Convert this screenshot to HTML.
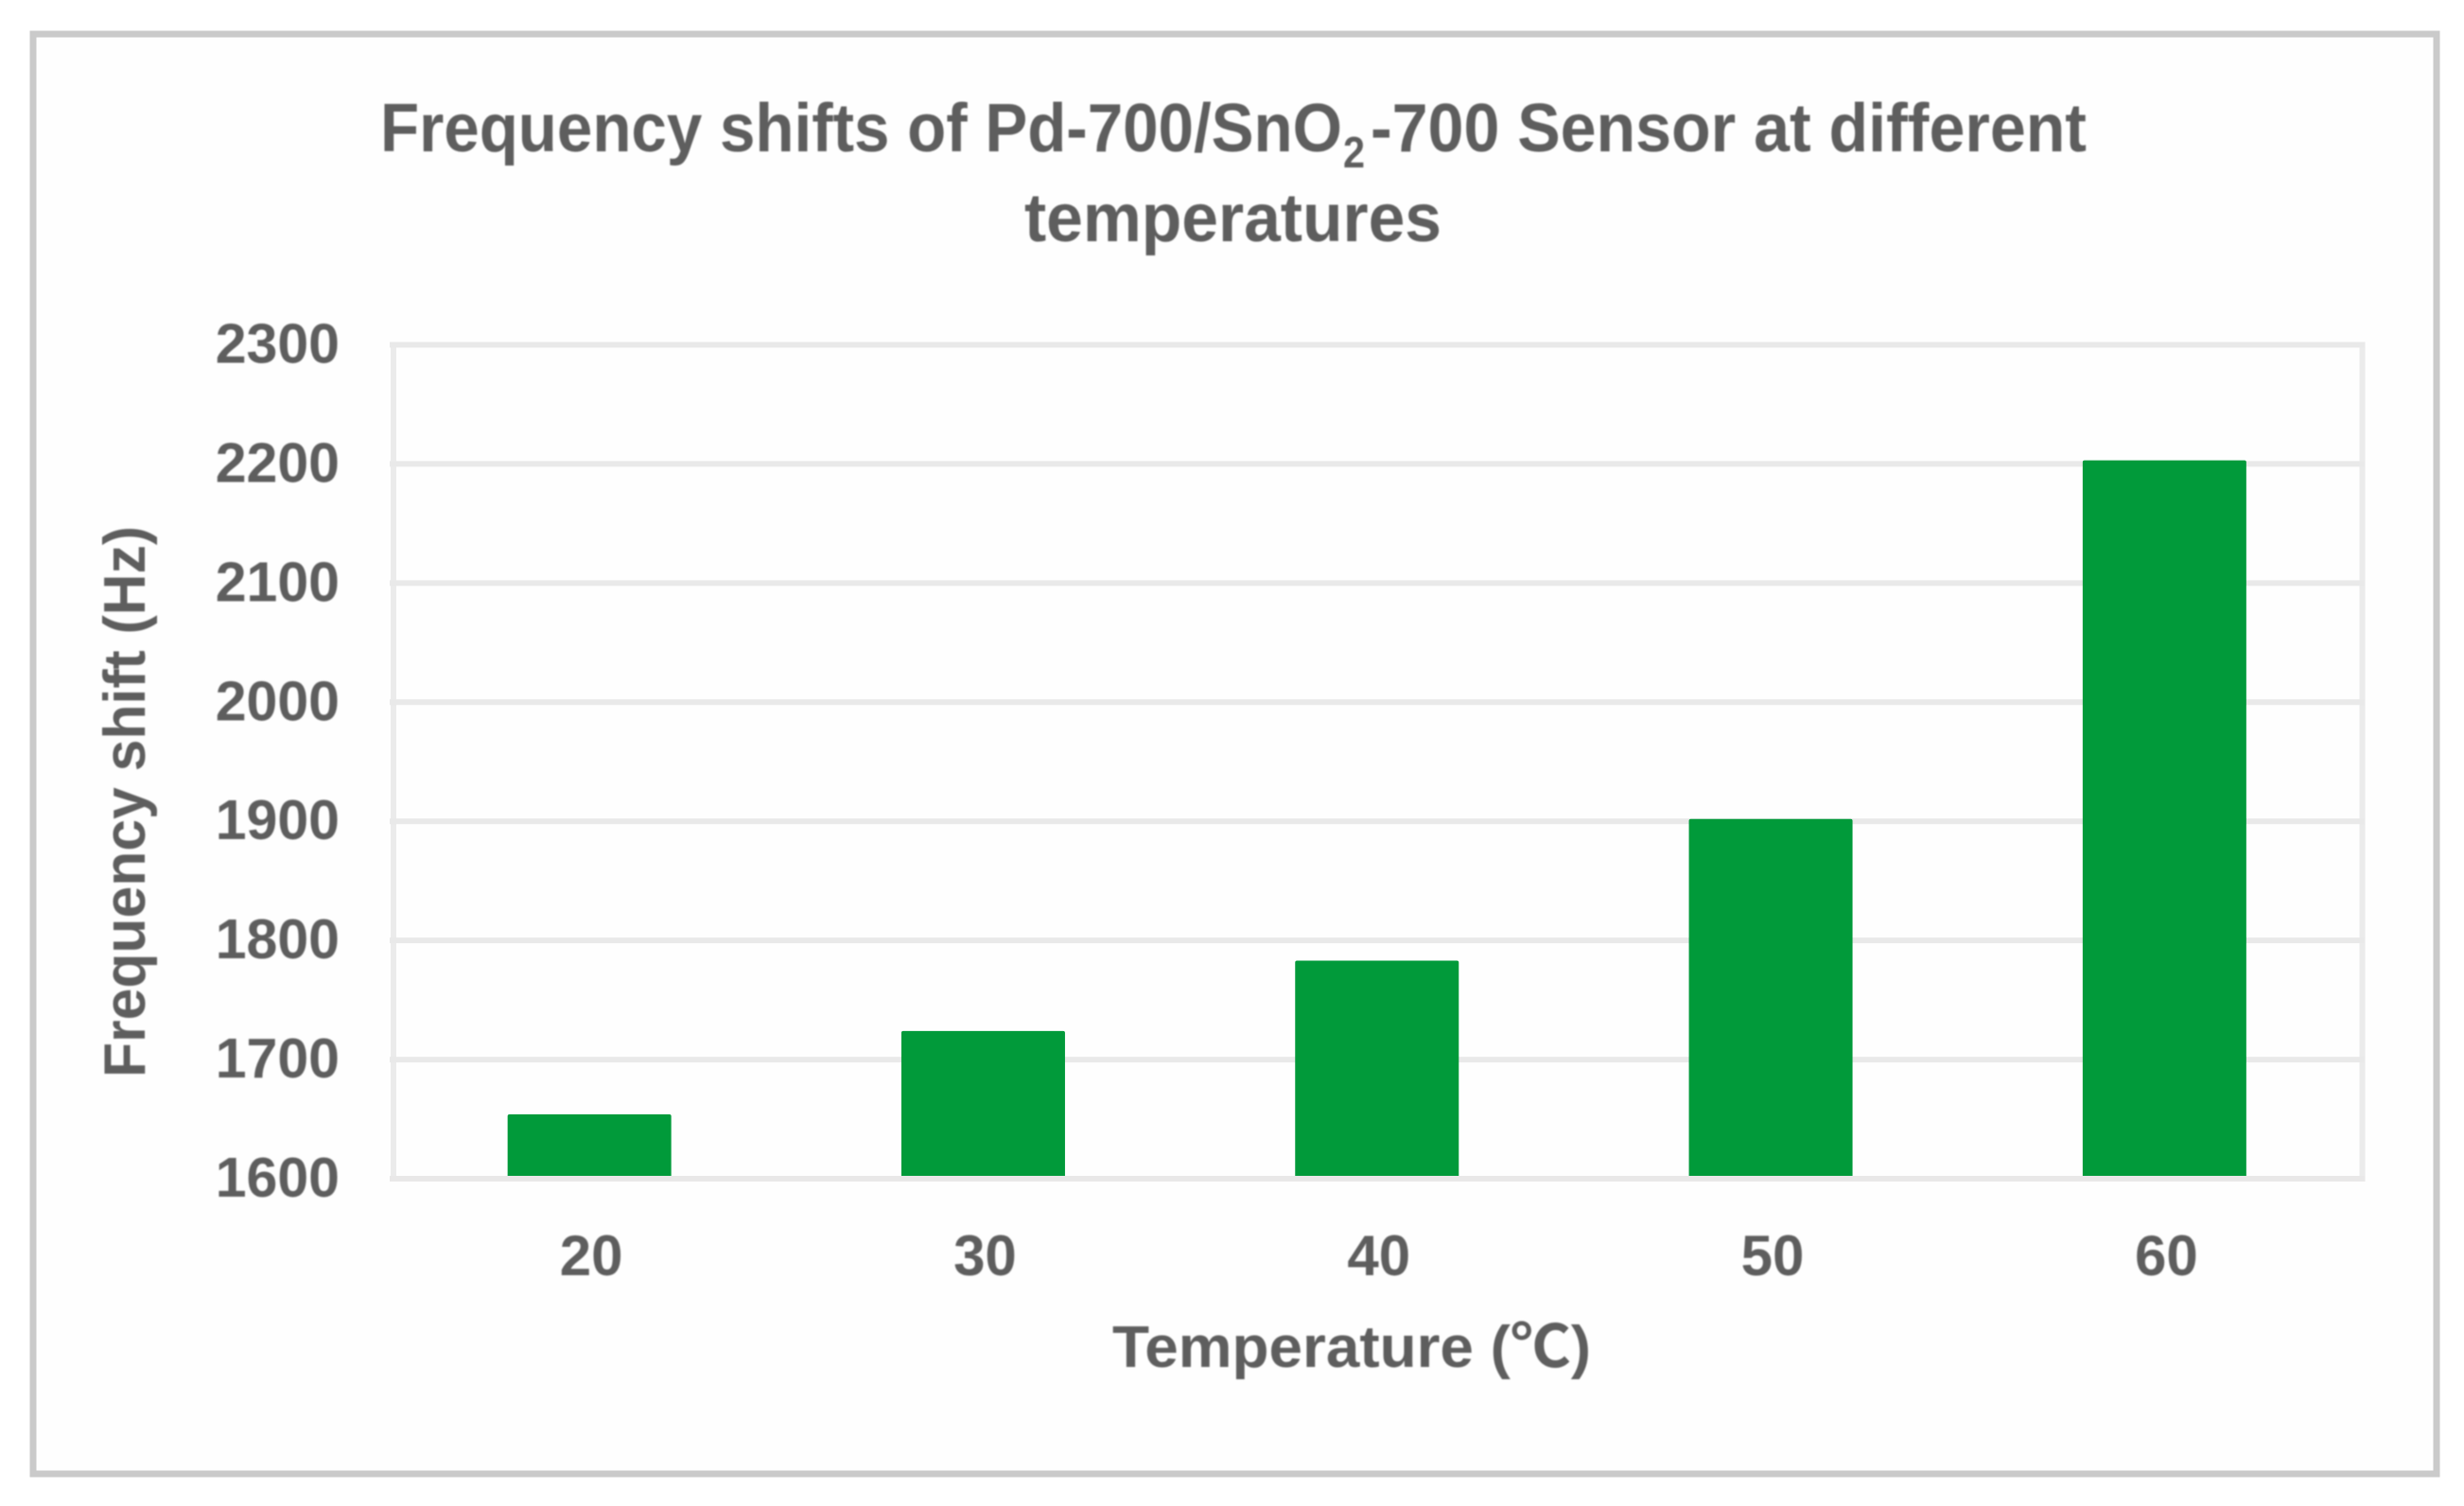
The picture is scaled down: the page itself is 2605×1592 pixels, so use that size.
<!DOCTYPE html>
<html lang="en">
<head>
<meta charset="utf-8">
<title>Frequency shifts of Pd-700/SnO2-700 Sensor at different temperatures</title>
<style>
  html, body { margin: 0; padding: 0; background: #ffffff; }
  body { width: 2605px; height: 1592px; overflow: hidden; }
  svg { display: block; }
  text {
    font-family: "Liberation Sans", "Noto Sans CJK SC", sans-serif;
    font-weight: 700;
    fill: #5e5e5e;
  }
  .soft { filter: blur(0.8px); }
</style>
</head>
<body>
<svg id="chart" xmlns="http://www.w3.org/2000/svg" width="2605" height="1592" viewBox="0 0 2605 1592">
  <rect x="0" y="0" width="2605" height="1592" fill="#ffffff"/>
  <rect x="35" y="36" width="2541" height="1522" fill="#fefefe" stroke="#cacaca" stroke-width="7"/>

  <g id="plot"></g>

  <g class="soft">
    <text font-size="72">
      <tspan x="402" y="160" textLength="1017" lengthAdjust="spacingAndGlyphs">Frequency shifts of Pd-700/SnO</tspan><tspan x="1420" y="177" font-size="46" textLength="23" lengthAdjust="spacingAndGlyphs">2</tspan><tspan x="1449" y="160" textLength="757" lengthAdjust="spacingAndGlyphs">-700 Sensor at different</tspan>
      <tspan x="1083" y="255" textLength="441" lengthAdjust="spacingAndGlyphs">temperatures</tspan>
    </text>
    <text x="1176" y="1445" font-size="62" textLength="506" lengthAdjust="spacingAndGlyphs">Temperature (℃)</text>
    <text transform="translate(153 1139) rotate(-90)" x="0" y="0" font-size="62" textLength="583" lengthAdjust="spacingAndGlyphs">Frequency shift (Hz)</text>
    <g id="y-ticks"></g>
    <g id="x-ticks"></g>
  </g>
</svg>

<script>
const categories = ["20", "30", "40", "50", "60"];
const frequencyShift = [1654, 1724, 1783, 1902, 2203];
const yTickValues = [1600, 1700, 1800, 1900, 2000, 2100, 2200, 2300];

const SVG_NS = "http://www.w3.org/2000/svg";
const plotLeft = 416;
const plotRight = 2497.5;
const plotTop = 364.5;
const plotBottom = 1246;
const yMin = yTickValues[0];
const yMax = yTickValues[yTickValues.length - 1];
const barWidth = 173;

function yScale(v) {
  return plotBottom - (v - yMin) / (yMax - yMin) * (plotBottom - plotTop);
}
function xCenter(i) {
  const band = (plotRight - plotLeft) / categories.length;
  return plotLeft + band * (i + 0.5) - 1;
}
function make(tag, attrs) {
  const el = document.createElementNS(SVG_NS, tag);
  for (const k in attrs) el.setAttribute(k, attrs[k]);
  return el;
}

const plot = document.getElementById("plot");
const yTicksGroup = document.getElementById("y-ticks");
const xTicksGroup = document.getElementById("x-ticks");

const leftBorder = make("line", { x1: plotLeft, x2: plotLeft, y1: plotTop, y2: plotBottom, stroke: "#ebebeb", "stroke-width": 6 });


plot.appendChild(leftBorder);

const rightBorder = make("line", { x1: plotRight, x2: plotRight, y1: plotTop, y2: plotBottom, stroke: "#ebebeb", "stroke-width": 6 });


plot.appendChild(rightBorder);

yTickValues.forEach(function (v) {
  if (v === yMin) return;
  const grid = make("line", { x1: plotLeft - 4, x2: plotRight + 3, y1: yScale(v), y2: yScale(v), stroke: "#e9e9e9", "stroke-width": 6 });
  
  
  plot.appendChild(grid);
});

frequencyShift.forEach(function (v, i) {
  const top = yScale(v);
  const bar = make("rect", { x: xCenter(i) - barWidth / 2, y: top, width: barWidth, height: yScale(yMin) - top, fill: "#019a3a", rx: 2 });
  
  
  plot.appendChild(bar);
});

const baseline = make("line", { x1: plotLeft - 4, x2: plotRight + 3, y1: yScale(yMin), y2: yScale(yMin), stroke: "#e9e8e8", "stroke-width": 6 });


plot.appendChild(baseline);

yTickValues.forEach(function (v) {
  const label = make("text", { x: 359, y: yScale(v) + 19, "text-anchor": "end", "font-size": 59 });
  
  
  label.textContent = String(v);
  yTicksGroup.appendChild(label);
});

categories.forEach(function (c, i) {
  const label = make("text", { x: xCenter(i) + 2, y: 1348, "text-anchor": "middle", "font-size": 60 });
  
  
  label.textContent = c;
  xTicksGroup.appendChild(label);
});
</script>
</body>
</html>
